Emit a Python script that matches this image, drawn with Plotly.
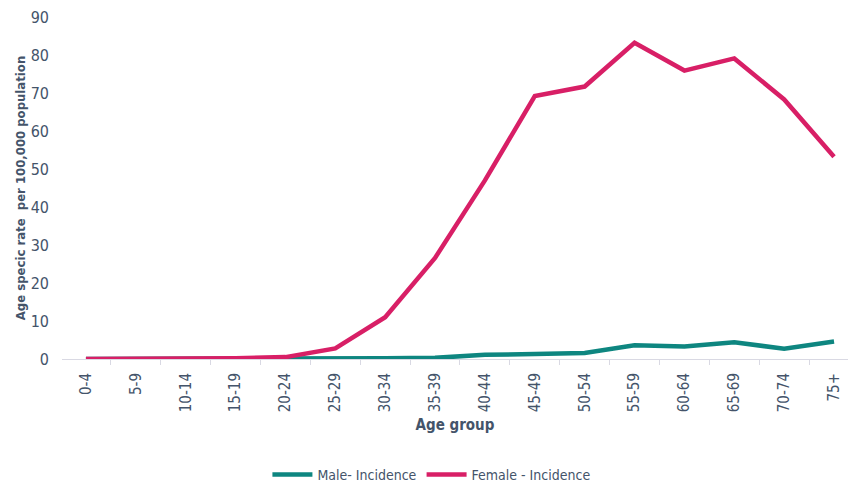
import plotly.graph_objects as go

age_groups = ["0-4", "5-9", "10-14", "15-19", "20-24", "25-29", "30-34", "35-39",
              "40-44", "45-49", "50-54", "55-59", "60-64", "65-69", "70-74", "75+"]
male_incidence = [0, 0, 0, 0, 0.1, 0.2, 0.2, 0.3, 1.1, 1.3, 1.6, 3.6, 3.3, 4.4, 2.7, 4.6]
female_incidence = [0, 0, 0, 0.2, 0.5, 2.8, 11.0, 26.6, 47.0, 69.2, 71.7, 83.2, 75.9, 79.1, 68.3, 53.2]

TEXT = "#44546a"
FONT = "DejaVu Sans Condensed, Liberation Sans Narrow, sans-serif"

fig = go.Figure()
fig.add_trace(go.Scatter(x=age_groups, y=male_incidence, mode="lines", name="Male- Incidence",
                         line=dict(color="#0e8680", width=4.5)))
fig.add_trace(go.Scatter(x=age_groups, y=female_incidence, mode="lines", name="Female - Incidence",
                         line=dict(color="#d81f66", width=4.5)))

fig.update_layout(
    width=848, height=483,
    margin=dict(l=62, r=0, t=17, b=124, autoexpand=False),
    paper_bgcolor="white", plot_bgcolor="white",
    font=dict(family=FONT, color=TEXT, size=14),
    showlegend=True,
    legend=dict(orientation="h", x=0.47, xanchor="center", y=-0.386, yanchor="bottom",
                font=dict(size=14, color=TEXT), itemwidth=40, tracegroupgap=0),
    xaxis=dict(
        type="category", range=[-0.48, 15.28], automargin=False,
        showline=True, linecolor="#d9d9e3", linewidth=1,
        ticks="outside", tickson="boundaries", ticklen=5, tickcolor="#d9d9e3",
        tickangle=-90, tickfont=dict(size=15, color=TEXT), ticklabelstandoff=7,
        showgrid=False,
        title=dict(text="<b>Age group</b>", font=dict(size=15, color=TEXT), standoff=8),
    ),
    yaxis=dict(
        range=[0, 90], dtick=10, showgrid=False, zeroline=False, showline=False,
        automargin=False,
        tickfont=dict(size=16, color=TEXT), ticks="", ticklabelstandoff=12,
        title=dict(text="<b>Age specic rate  per 100,000 population</b>",
                   font=dict(size=13, color=TEXT), standoff=2),
    ),
)

fig.write_html("out.html")
